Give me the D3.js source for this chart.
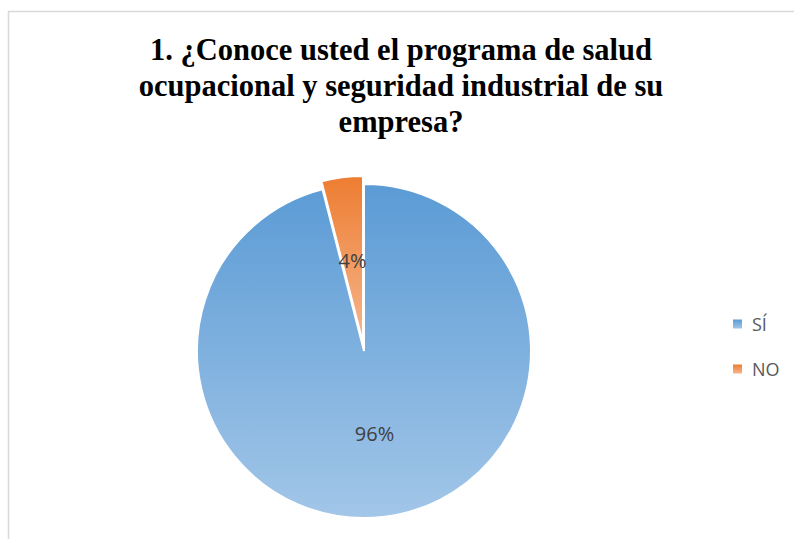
<!DOCTYPE html>
<html>
<head>
<meta charset="utf-8">
<script src="https://cdn.jsdelivr.net/npm/d3@7"></script>
<style>
  html, body { margin: 0; padding: 0; background: #fff; }
  svg { display: block; }
</style>
</head>
<body>
<svg id="chart" width="794" height="539"></svg>
<script>
const categories = ["SÍ", "NO"];
const values = [96, 4];
const labels = ["96%", "4%"];
const titleLines = ["1. ¿Conoce usted el programa de salud", "ocupacional y seguridad industrial de su", "empresa?"];
const colorsTop = ["#5B9BD5", "#ED7D31"];
const colorsBottom = ["#A2C6E8", "#F6B68E"];

const svg = d3.select("#chart");
const W = 794, H = 539;

// chart border
svg.append("rect")
  .attr("x", 8.5).attr("y", 11.5)
  .attr("width", W + 20).attr("height", H + 20)
  .attr("fill", "#fff").attr("stroke", "#d9d9d9").attr("stroke-width", 1.5);

// title
svg.append("text")
  .attr("text-anchor", "middle")
  .attr("font-family", "'Liberation Serif', 'Times New Roman', serif")
  .attr("font-weight", "bold")
  .attr("font-size", 30.5)
  .attr("fill", "#000")
  .selectAll("tspan")
  .data(titleLines)
  .join("tspan")
  .attr("x", 401)
  .attr("y", (d, i) => 60 + i * 36)
  .text(d => d);

// gradients
const defs = svg.append("defs");
categories.forEach((c, i) => {
  const g = defs.append("linearGradient")
    .attr("id", "grad" + i)
    .attr("x1", 0).attr("y1", 0).attr("x2", 0).attr("y2", 1);
  g.append("stop").attr("offset", "0%").attr("stop-color", colorsTop[i]);
  g.append("stop").attr("offset", "100%").attr("stop-color", colorsBottom[i]);
});

const cx = 364, cy = 351, r = 167;
const data = categories.map((c, i) => ({ cat: c, value: values[i], label: labels[i], i }));

const pie = d3.pie().sort(null).value(d => d.value);
const arcs = pie(data);
const arc = d3.arc().innerRadius(0).outerRadius(r);
const explode = [0, 8];

const g = svg.append("g").attr("transform", `translate(${cx},${cy})`);

g.selectAll("path.slice")
  .data(arcs)
  .join("path")
  .attr("class", "slice")
  .attr("transform", d => {
    const mid = (d.startAngle + d.endAngle) / 2;
    const e = explode[d.index];
    return `translate(${Math.sin(mid) * e},${-Math.cos(mid) * e})`;
  })
  .attr("d", arc)
  .attr("fill", d => `url(#grad${d.index})`)
  .attr("stroke", "#fff")
  .attr("stroke-width", 2)
  .attr("stroke-linejoin", "miter");

// data labels
const labelArc = d3.arc().innerRadius(r * 0.5).outerRadius(r * 0.5);
g.selectAll("text.lbl")
  .data(arcs)
  .join("text")
  .attr("class", "lbl")
  .attr("transform", d => {
    const [x, y] = labelArc.centroid(d);
    const mid = (d.startAngle + d.endAngle) / 2;
    const e = explode[d.index];
    return `translate(${x + Math.sin(mid) * e},${y - Math.cos(mid) * e})`;
  })
  .attr("text-anchor", "middle")
  .attr("dominant-baseline", "central")
  .attr("font-family", "'Open Sans', sans-serif")
  .attr("font-size", 20)
  .attr("fill", "#404040")
  .text(d => d.data.label);

// legend
const legend = svg.append("g").attr("transform", "translate(733,324)");
const item = legend.selectAll("g")
  .data(data)
  .join("g")
  .attr("transform", (d, i) => `translate(0,${i * 45})`);
item.append("rect")
  .attr("x", 0).attr("y", -4.5)
  .attr("width", 9).attr("height", 9)
  .attr("fill", d => `url(#grad${d.i})`);
item.append("text")
  .attr("x", 19).attr("y", 0)
  .attr("dominant-baseline", "central")
  .attr("font-family", "'Open Sans', sans-serif")
  .attr("font-size", 18)
  .attr("fill", "#595959")
  .text(d => d.cat);
</script>
</body>
</html>
